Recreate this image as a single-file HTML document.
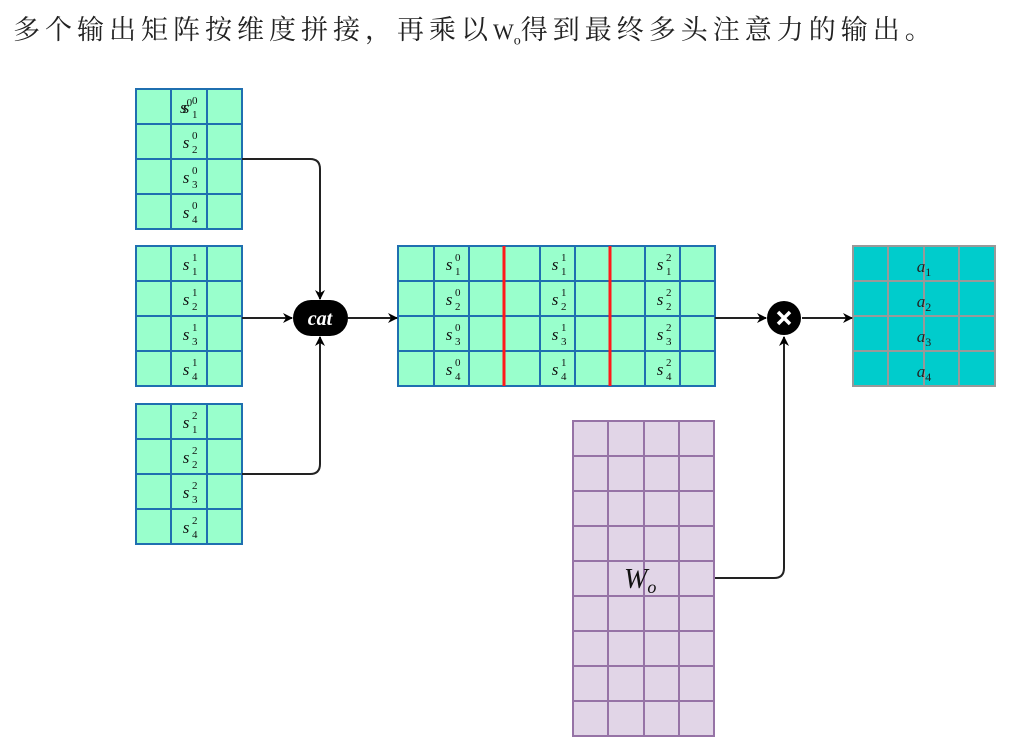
<!DOCTYPE html>
<html><head><meta charset="utf-8"><style>
body{margin:0;background:#fff;width:1009px;height:740px;overflow:hidden;position:relative}
.t{position:absolute;left:13px;top:12px;font-family:"Liberation Serif","Noto Serif CJK SC",serif;font-size:27px;letter-spacing:5px;color:#222;white-space:nowrap;line-height:36px}
svg{position:absolute;left:0;top:0}
</style></head><body>
<div class="t">多个输出矩阵按维度拼接，再乘以<span style="letter-spacing:0;font-size:22px">W<sub style="font-size:14px">o</sub></span>得到最终多头注意力的输出。</div>
<svg width="1009" height="740" viewBox="0 0 1009 740" font-family="Liberation Serif, serif">
<defs><marker id="a" markerWidth="10" markerHeight="10" refX="9" refY="5" orient="auto" markerUnits="userSpaceOnUse"><path d="M0,0 L10,5 L0,10 L3,5 z" fill="#000"/></marker></defs>
<g fill="#99FFCC" stroke="#1f6fb0" stroke-width="2">
<rect x="136" y="89" width="106" height="140"/>
<rect x="136" y="246" width="106" height="140"/>
<rect x="136" y="404" width="106" height="140"/>
<rect x="398" y="246" width="317" height="140"/>
</g>
<g stroke="#1f6fb0" stroke-width="2">
<path d="M171,89V229M207,89V229M136,124H242M136,159H242M136,194H242"/>
<path d="M171,246V386M207,246V386M136,281H242M136,316H242M136,351H242"/>
<path d="M171,404V544M207,404V544M136,439H242M136,474H242M136,509H242"/>
<path d="M434,246V386M469,246V386M540,246V386M575,246V386M645,246V386M680,246V386M398,281H715M398,316H715M398,351H715"/>
</g>
<path d="M504,246V386M610,246V386" stroke="#ff1a1a" stroke-width="3"/>
<g font-style="italic" font-size="17" text-anchor="middle" fill="#111">
<text x="186" y="113">s<tspan font-size="11" font-style="normal" dy="-7">0</tspan></text>
</g>
<g font-style="italic" font-size="17" fill="#111" id="lbl"></g>
<!-- labels -->
<g font-size="17" fill="#111">
<g id="s">
</g>
</g>
<g fill="#00CCCC" stroke="#999" stroke-width="2">
<rect x="853" y="246" width="142" height="140"/>
<path d="M888,246V386M924,246V386M959,246V386M853,281H995M853,316H995M853,351H995" fill="none"/>
</g>
<g font-style="italic" font-size="17" fill="#222" text-anchor="middle">
<text x="924" y="272">a<tspan font-size="12" font-style="normal" dy="4">1</tspan></text>
<text x="924" y="307">a<tspan font-size="12" font-style="normal" dy="4">2</tspan></text>
<text x="924" y="342">a<tspan font-size="12" font-style="normal" dy="4">3</tspan></text>
<text x="924" y="377">a<tspan font-size="12" font-style="normal" dy="4">4</tspan></text>
</g>
<g fill="#E1D5E7" stroke="#9673A6" stroke-width="2">
<rect x="573" y="421" width="141" height="315"/>
<path fill="none" d="M608,421V736M644,421V736M679,421V736M573,456H714M573,491H714M573,526H714M573,561H714M573,596H714M573,631H714M573,666H714M573,701H714"/>
</g>
<text x="624" y="588" font-size="28" font-style="italic" fill="#111">W<tspan font-size="18" dy="5">o</tspan></text>
<g stroke="#222" stroke-width="2" fill="none" marker-end="url(#a)">
<path d="M242,159H310Q320,159 320,169V299"/>
<path d="M242,474H310Q320,474 320,464V337"/>
<path d="M242,318H292"/>
<path d="M348,318H397"/>
<path d="M715,318H766"/>
<path d="M802,318H852"/>
<path d="M715,578H774Q784,578 784,568V337"/>
</g>
<rect x="293" y="300" width="55" height="36" rx="18" fill="#000"/>
<text x="320" y="325" font-size="20" font-style="italic" font-weight="bold" fill="#fff" text-anchor="middle">cat</text>
<circle cx="784" cy="318" r="17" fill="#000"/>
<path d="M778,312L790,324M790,312L778,324" stroke="#fff" stroke-width="3.5"/>
</svg>
<svg width="1009" height="740" font-family="Liberation Serif, serif" font-size="17" fill="#111">
<g font-style="italic" text-anchor="middle">
<!-- left matrices -->
<text x="186" y="113">s</text><text x="186" y="148">s</text><text x="186" y="183">s</text><text x="186" y="218">s</text>
<text x="186" y="270">s</text><text x="186" y="305">s</text><text x="186" y="340">s</text><text x="186" y="375">s</text>
<text x="186" y="428">s</text><text x="186" y="463">s</text><text x="186" y="498">s</text><text x="186" y="533">s</text>
<text x="449" y="270">s</text><text x="449" y="305">s</text><text x="449" y="340">s</text><text x="449" y="375">s</text>
<text x="555" y="270">s</text><text x="555" y="305">s</text><text x="555" y="340">s</text><text x="555" y="375">s</text>
<text x="660" y="270">s</text><text x="660" y="305">s</text><text x="660" y="340">s</text><text x="660" y="375">s</text>
</g>
<g font-size="11">
<text x="192" y="104">0</text><text x="192" y="139">0</text><text x="192" y="174">0</text><text x="192" y="209">0</text>
<text x="192" y="261">1</text><text x="192" y="296">1</text><text x="192" y="331">1</text><text x="192" y="366">1</text>
<text x="192" y="419">2</text><text x="192" y="454">2</text><text x="192" y="489">2</text><text x="192" y="524">2</text>
<text x="455" y="261">0</text><text x="455" y="296">0</text><text x="455" y="331">0</text><text x="455" y="366">0</text>
<text x="561" y="261">1</text><text x="561" y="296">1</text><text x="561" y="331">1</text><text x="561" y="366">1</text>
<text x="666" y="261">2</text><text x="666" y="296">2</text><text x="666" y="331">2</text><text x="666" y="366">2</text>
<text x="192" y="118">1</text><text x="192" y="153">2</text><text x="192" y="188">3</text><text x="192" y="223">4</text>
<text x="192" y="275">1</text><text x="192" y="310">2</text><text x="192" y="345">3</text><text x="192" y="380">4</text>
<text x="192" y="433">1</text><text x="192" y="468">2</text><text x="192" y="503">3</text><text x="192" y="538">4</text>
<text x="455" y="275">1</text><text x="455" y="310">2</text><text x="455" y="345">3</text><text x="455" y="380">4</text>
<text x="561" y="275">1</text><text x="561" y="310">2</text><text x="561" y="345">3</text><text x="561" y="380">4</text>
<text x="666" y="275">1</text><text x="666" y="310">2</text><text x="666" y="345">3</text><text x="666" y="380">4</text>
</g>
</svg>
</body></html>
